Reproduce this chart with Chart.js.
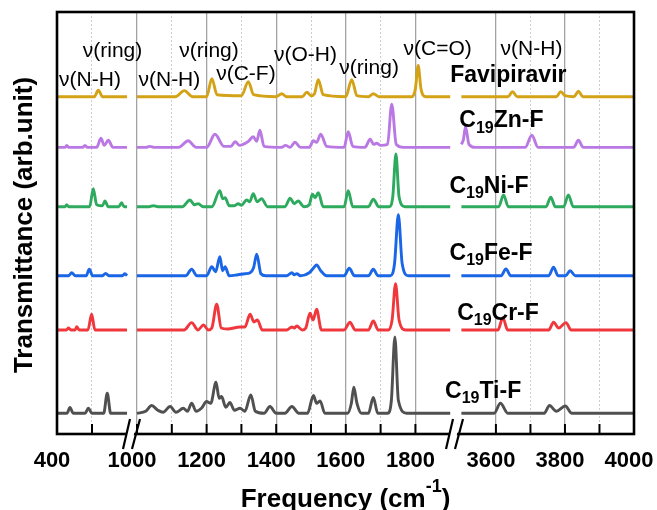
<!DOCTYPE html>
<html>
<head>
<meta charset="utf-8">
<script src="https://cdn.jsdelivr.net/npm/chart.js@4.4.0/dist/chart.umd.min.js"></script>
<style>
  html, body { margin: 0; padding: 0; background: #fff; }
</style>
</head>
<body>
<canvas id="c" width="657" height="510"></canvas>
<script>
// broken frequency axis: three pieces side by side
const segMin = [400, 985.6, 3481.5];
const segMax = [1043, 1913.8, 4000];
const segWeight = [75, 323, 179];
const segTicks = [
  [400, 700],
  [1000, 1100, 1200, 1300, 1400, 1500, 1600, 1700, 1800],
  [3600, 3700, 3800, 3900, 4000]
];
const labeledTicks = [400, 1000, 1200, 1400, 1600, 1800, 3600, 3800, 4000];
const majorTicks = [1000, 1200, 1400, 1600, 1800, 3600, 3800];

const names = ['Favipiravir', 'C19Zn-F', 'C19Ni-F', 'C19Fe-F', 'C19Cr-F', 'C19Ti-F'];
const colors = ['#D4A216', '#B978E4', '#2DAA5E', '#1A66E6', '#F0373C', '#505050'];
const offsets = [33.57, 28.53, 22.62, 15.75, 10.35, 2.06];

// [wavenumber, intensity above own baseline], one list per axis piece
const favipiravir = [
  [[400,0],[720,0],[754,0.65],[790,0],[1000,0]],
  [[1000,0],[1110,0],[1136,0.6],[1160,0],[1200,0],[1215,1.8],[1230,0.2],[1300,0.1],[1320,1.5],[1335,0.2],[1400,0],[1416,0.3],[1430,0],[1475,0],[1488,0.45],[1500,0.1],[1510,0.3],[1521,1.7],[1535,0.2],[1600,0],[1617,1.7],[1632,0.1],[1665,0],[1679,0.3],[1695,0],[1790,0],[1800,0.8],[1808,3.1],[1816,0.8],[1830,0],[1900,0]],
  [[3500,0],[3635,0],[3648,0.5],[3662,0],[3775,0],[3788,0.5],[3800,0.1],[3826,0],[3839,0.55],[3852,0],[4000,0]]
];
const zn = [
  [[400,0],[470,0],[483,0.2],[500,0],[620,0],[640,0.2],[660,0],[740,0],[777,0.9],[805,0.2],[840,0.7],[880,0],[1000,0]],
  [[1000,0],[1025,0],[1037,0.1],[1050,0],[1120,0],[1147,0.65],[1170,0],[1200,0],[1224,1.3],[1250,0.1],[1270,0.1],[1282,0.55],[1295,0.2],[1305,0.3],[1320,0.6],[1334,1.05],[1344,0.6],[1353,1.7],[1365,0.1],[1415,0],[1427,0.2],[1440,0],[1454,0.5],[1470,0],[1495,0],[1507,0.65],[1516,0.5],[1528,1.3],[1545,0.1],[1595,0],[1607,1.55],[1620,0.1],[1655,0],[1670,0.8],[1680,0.3],[1689,0.4],[1700,0.2],[1720,0.3],[1732,4.3],[1745,0.3],[1765,0],[1900,0]],
  [[3500,0.3],[3506,0.8],[3512,2.05],[3522,0.3],[3540,0],[3685,0],[3704,1.2],[3722,0],[3825,0],[3839,0.7],[3853,0],[4000,0]]
];
const ni = [
  [[400,0],[470,0],[483,0.2],[500,0],[680,0],[711,1.8],[740,0.2],[790,0.1],[811,0.57],[840,0],[930,0],[954,0.4],[975,0],[1000,0]],
  [[1000,0],[1035,0],[1047,0.1],[1060,0],[1130,0],[1152,0.67],[1165,0.2],[1176,0.3],[1190,0],[1215,0],[1238,1.6],[1246,0.8],[1253,0.9],[1265,0.1],[1280,0.1],[1291,0.3],[1300,0.15],[1315,0.67],[1324,0.5],[1334,1.3],[1345,0.5],[1358,0.8],[1375,0],[1425,0],[1440,0.84],[1452,0.3],[1463,0.57],[1480,0],[1495,0.2],[1504,1.24],[1512,0.9],[1521,1.4],[1535,0],[1595,0],[1607,1.6],[1620,0],[1665,0],[1679,0.74],[1695,0],[1725,0],[1735,1.0],[1744,5.24],[1753,1.0],[1770,0],[1900,0]],
  [[3500,0],[3608,0],[3622,1.17],[3636,0],[3745,0],[3759,0.94],[3772,0],[3796,0],[3810,1.17],[3824,0],[4000,0]]
];
const fe = [
  [[400,0],[500,0],[526,0.3],[555,0],[650,0],[677,0.64],[705,0],[790,0],[817,0.24],[845,0],[960,0],[983,0.2],[1000,0]],
  [[1000,0],[1140,0],[1157,0.64],[1172,0],[1200,0],[1215,0.9],[1226,0.4],[1238,1.9],[1246,0.5],[1253,0.9],[1265,0],[1290,0.1],[1310,0.2],[1325,0.3],[1335,0.8],[1344,2.14],[1356,0.2],[1370,0],[1430,0],[1445,0.3],[1452,0.1],[1459,0.2],[1470,0],[1495,0.3],[1508,0.8],[1516,1.07],[1528,0.5],[1545,0],[1595,0],[1610,0.74],[1625,0],[1665,0],[1679,0.64],[1693,0],[1728,0],[1740,1.2],[1751,6.07],[1762,1.2],[1780,0],[1900,0]],
  [[3500,0],[3615,0],[3629,0.67],[3643,0],[3753,0],[3767,0.84],[3780,0],[3802,0],[3815,0.5],[3830,0],[4000,0]]
];
const cr = [
  [[400,0],[480,0],[497,0.2],[520,0],[555,0],[569,0.33],[590,0],[665,0],[697,1.57],[725,0],[1000,0]],
  [[1000,0],[1135,0],[1157,0.73],[1175,0],[1191,0.5],[1205,0],[1215,0.2],[1229,2.57],[1242,0.2],[1260,0.1],[1296,0.3],[1310,0.3],[1325,1.57],[1336,0.8],[1346,1.0],[1360,0],[1430,0],[1445,0.3],[1452,0.2],[1459,0.4],[1475,0],[1485,0.2],[1497,1.67],[1506,1.0],[1516,2.07],[1530,0],[1595,0],[1612,0.77],[1627,0],[1665,0],[1679,0.9],[1693,0],[1722,0],[1733,1.0],[1743,4.6],[1753,1.0],[1772,0],[1900,0]],
  [[3500,0],[3606,0],[3620,1.23],[3634,0],[3753,0],[3767,0.77],[3782,0.2],[3803,0.73],[3818,0],[4000,0]]
];
const ti = [
  [[400,0],[485,0],[511,0.57],[540,0],[640,0],[669,0.5],[700,0],[800,0],[831,2.0],[860,0],[1000,0]],
  [[1000,0],[1025,0.2],[1042,0.77],[1060,0.3],[1075,0.1],[1095,0.67],[1112,0.1],[1133,0.5],[1145,0.2],[1157,1.0],[1170,0.2],[1185,0.5],[1200,1.17],[1212,1.0],[1227,3.1],[1236,1.5],[1243,1.67],[1255,0.6],[1267,1.07],[1280,0.3],[1296,0.5],[1310,0.2],[1327,1.83],[1340,0.2],[1365,0],[1382,0.67],[1400,0],[1425,0],[1445,0.67],[1465,0],[1490,0],[1507,1.77],[1516,1.0],[1526,1.23],[1540,0],[1605,0],[1616,1.0],[1623,2.6],[1632,1.0],[1645,0],[1665,0],[1679,1.57],[1692,0],[1720,0],[1731,1.3],[1741,7.6],[1751,1.3],[1775,0],[1900,0]],
  [[3500,0],[3595,0],[3613,1.0],[3635,0],[3740,0],[3755,0.77],[3775,0.2],[3801,0.73],[3820,0],[4000,0]]
];
const spectra = [favipiravir, zn, ni, fe, cr, ti];

// band assignments written above the top trace
const bandText = ['ν(N-H)', 'ν(ring)', 'ν(N-H)', 'ν(ring)', 'ν(C-F)', 'ν(O-H)', 'ν(ring)', 'ν(C=O)', 'ν(N-H)'];
const bandSeg = [0, 0, 1, 1, 1, 1, 1, 1, 2];
const bandWn = [683, 876, 1093, 1207, 1313, 1484, 1667, 1864, 3703];
const bandY = [35.23, 38.12, 35.23, 38.12, 35.83, 37.72, 36.43, 38.32, 38.32];

// where each spectrum name sits (third axis piece)
const nameWn = [3636, 3616, 3580, 3586, 3606, 3563];
const nameY = [35.9, 31.33, 24.78, 18.11, 12.14, 4.38];

const FONT = '"Liberation Sans", Arial, Helvetica, sans-serif';

let datasets = [];
spectra.forEach((pieces, s) => {
  pieces.forEach((pts, k) => {
    datasets.push({
      label: names[s],
      xAxisID: 'x' + k,
      yAxisID: 'y',
      data: pts.map(p => ({ x: p[0], y: p[1] + offsets[s] })),
      borderColor: colors[s],
      borderWidth: 2.9,
      pointRadius: 0,
      fill: false,
      cubicInterpolationMode: 'monotone'
    });
  });
});

let scales = { y: { display: false, min: 0, max: 42 } };
segMin.forEach((mn, k) => {
  scales['x' + k] = {
    type: 'linear',
    position: 'bottom',
    stack: 'freq',
    stackWeight: segWeight[k],
    min: mn,
    max: segMax[k],
    afterBuildTicks: s => { s.ticks = segTicks[k].map(v => ({ value: v })); },
    afterFit: s => { s.height = 40; s.paddingLeft = 0; s.paddingRight = 0; },
    grid: {
      drawTicks: false,
      color: c => (c.tick && majorTicks.includes(c.tick.value)) ? '#a3a3a3' : '#cdcdcd',
      lineWidth: c => (c.tick && majorTicks.includes(c.tick.value)) ? 1.3 : 1
    },
    border: {
      display: false,
      dash: c => (c.tick && majorTicks.includes(c.tick.value)) ? [] : [2, 2]
    },
    ticks: {
      autoSkip: false,
      maxRotation: 0,
      padding: 14,
      labelOffset: -5,
      color: '#000',
      font: { family: FONT, size: 22, weight: 'bold' },
      callback: v => labeledTicks.includes(v) ? String(v) : ''
    }
  };
});

function drawSubscripted(ctx, text, cx, cy, size) {
  const parts = text.split(/(\d+)/).filter(p => p.length);
  const big = 'bold ' + size + 'px ' + FONT;
  const small = 'bold ' + Math.round(size * 0.7) + 'px ' + FONT;
  let w = 0;
  parts.forEach(p => { ctx.font = /\d/.test(p) ? small : big; w += ctx.measureText(p).width; });
  let x = cx - w / 2;
  const base = cy + size * 0.358;
  ctx.textAlign = 'left';
  ctx.textBaseline = 'alphabetic';
  parts.forEach(p => {
    const sub = /\d/.test(p);
    ctx.font = sub ? small : big;
    ctx.fillText(p, x, base + (sub ? size * 0.22 : 0));
    x += ctx.measureText(p).width;
  });
}

const decor = {
  id: 'decor',
  afterDraw(chart) {
    const { ctx, chartArea: a, scales: sc } = chart;
    ctx.save();

    // inward tick marks
    ctx.strokeStyle = '#000';
    ctx.lineWidth = 2;
    segTicks.forEach((list, k) => {
      list.forEach(v => {
        const px = sc['x' + k].getPixelForValue(v);
        ctx.beginPath();
        ctx.moveTo(px, a.bottom);
        ctx.lineTo(px, a.bottom - 10);
        ctx.stroke();
      });
    });

    // frame
    ctx.lineWidth = 2.6;
    ctx.strokeRect(a.left, a.top, a.right - a.left, a.bottom - a.top);

    // axis break marks
    [sc.x0.right, sc.x1.right].forEach(c => {
      const yb = a.bottom;
      ctx.fillStyle = '#fff';
      ctx.beginPath();
      ctx.moveTo(c - 7, yb + 5);
      ctx.lineTo(c + 1, yb + 5);
      ctx.lineTo(c + 3, yb - 5);
      ctx.lineTo(c - 5, yb - 5);
      ctx.closePath();
      ctx.fill();
      ctx.strokeStyle = '#000';
      ctx.lineWidth = 2.2;
      ctx.beginPath();
      ctx.moveTo(c - 9, yb + 15); ctx.lineTo(c - 2, yb - 15);
      ctx.moveTo(c + 0, yb + 15); ctx.lineTo(c + 8, yb - 15);
      ctx.stroke();
    });

    // band assignments
    ctx.fillStyle = '#000';
    ctx.font = '21px ' + FONT;
    ctx.textAlign = 'center';
    ctx.textBaseline = 'middle';
    bandText.forEach((t, i) => {
      ctx.fillText(t, sc['x' + bandSeg[i]].getPixelForValue(bandWn[i]), sc.y.getPixelForValue(bandY[i]));
    });

    // spectrum names
    names.forEach((n, i) => {
      drawSubscripted(ctx, n, sc.x2.getPixelForValue(nameWn[i]), sc.y.getPixelForValue(nameY[i]), 23);
    });

    // x title with superscript
    const main1 = 'Frequency (cm', sup = '-1', main2 = ')';
    const bigF = 'bold 26px ' + FONT, supF = 'bold 18px ' + FONT;
    ctx.font = bigF;
    const w1 = ctx.measureText(main1).width, w3 = ctx.measureText(main2).width;
    ctx.font = supF;
    const w2 = ctx.measureText(sup).width;
    let x = (a.left + a.right) / 2 - (w1 + w2 + w3) / 2;
    ctx.textAlign = 'left';
    ctx.textBaseline = 'alphabetic';
    ctx.font = bigF; ctx.fillText(main1, x, 507); x += w1;
    ctx.font = supF; ctx.fillText(sup, x, 492); x += w2;
    ctx.font = bigF; ctx.fillText(main2, x, 507);

    // y title
    ctx.translate(32, 225);
    ctx.rotate(-Math.PI / 2);
    ctx.textAlign = 'center';
    ctx.font = bigF;
    ctx.fillText('Transmittance (arb.unit)', 0, 0);

    ctx.restore();
  }
};

new Chart(document.getElementById('c'), {
  type: 'line',
  data: { datasets: datasets },
  options: {
    responsive: false,
    animation: false,
    layout: { padding: { left: 57, right: 23, top: 12, bottom: 36 } },
    plugins: { legend: { display: false }, tooltip: { enabled: false } },
    scales: scales
  },
  plugins: [decor]
});
</script>
</body>
</html>
